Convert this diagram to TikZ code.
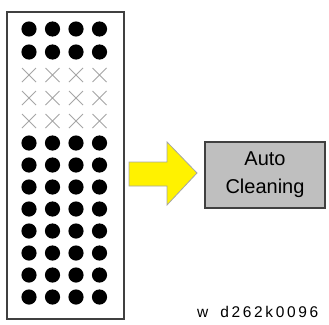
\documentclass[tikz,border=0pt]{standalone}
\usepackage{fontspec}
\setmainfont{Liberation Sans}
\begin{document}
\begin{tikzpicture}[x=1pt,y=-1pt,
  dotmark/.style={fill=black,draw=none},
  xmark/.style={draw=black!35,line width=0.9pt},
  panel/.style={draw=black!75,line width=1.2pt,fill=white},
  arrowshape/.style={fill=yellow,draw=black!35,line width=0.8pt,line join=miter},
  cleanbox/.style={draw=black!75,line width=1.2pt,fill=black!25,minimum width=120pt,minimum height=66pt,align=center,font=\fontsize{20}{28}\selectfont,inner sep=0pt},
  codelabel/.style={font=\fontsize{15.5}{17}\selectfont\addfontfeature{LetterSpace=17},anchor=base west,inner sep=0pt}]
\useasboundingbox (0,0) rectangle (329,324);
\node[panel,minimum width=117pt,minimum height=307pt,inner sep=0pt] (panel) at (65.5,165.5) {};
\foreach \c [count=\i] in {29,52.5,76,99.5}{
  \foreach \r in {29,52}{
    \fill[dotmark] (\c,\r) circle (7.6);
  }
  \foreach \r in {75,98,121}{
    \draw[xmark] (\c-7,\r-7) -- (\c+7,\r+7) (\c-7,\r+7) -- (\c+7,\r-7);
  }
  \foreach \r in {143,165,187,209,231,253,275,297}{
    \fill[dotmark] (\c,\r) circle (7.6);
  }
}
\draw[arrowshape] (129,162) -- (167,162) -- (167,142) -- (197,173) -- (167,205) -- (167,186) -- (129,186) -- cycle;
\node[cleanbox] (clean) at (265,175) {Auto\\Cleaning};
\node[codelabel] (code) at (197,317) {w\hspace{12pt}d262k0096};
\end{tikzpicture}
\end{document}
